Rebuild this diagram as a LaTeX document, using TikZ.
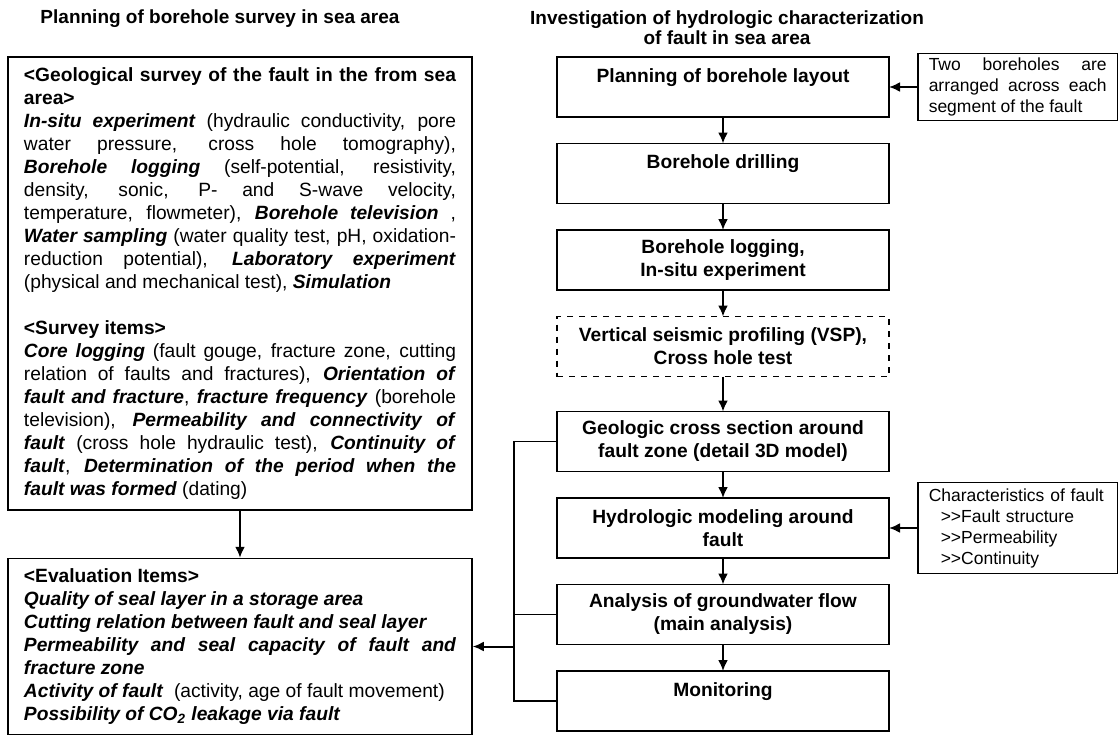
\documentclass[tikz,border=0pt]{standalone}
\usepackage{fontspec}
\setmainfont{Liberation Sans}
\usetikzlibrary{positioning,arrows.meta}

\newcommand{\bi}[1]{\textbf{\textit{#1}}}

\begin{document}
\begin{tikzpicture}[x=0.5pt, y=-0.5pt, node distance=13.25pt]
    \tikzset{
        headline/.style = {font=\fontsize{9.5}{10}\selectfont\bfseries, align=center},
        textbox/.style = {rectangle, draw, line width=0.75pt, inner xsep=8pt, inner ysep=4pt, text width=216pt, align=justify, font=\fontsize{9.6}{11.5}\selectfont},
        flowbox/.style = {rectangle, draw, line width=0.75pt, outer sep=0pt, minimum width=166pt, minimum height=30pt, align=center, font=\fontsize{9.6}{11.5}\selectfont\bfseries},
        notebox/.style = {rectangle, draw, line width=0.75pt, inner xsep=5.5pt, inner ysep=1.5pt, text width=89pt, font=\fontsize{8.75}{10.5}\selectfont},
        arrow/.style = {line width=1pt, -{Latex[length=5.5pt, width=5pt]}},
        bus/.style = {line width=0.6pt}
    }
    \useasboundingbox (0,0) rectangle (1118,734);

    % left column: survey plan
    \node[headline] (lefttitle) at (220,19) {Planning of borehole survey in sea area};
    \node[textbox, minimum height=226.5pt] (geo) at (240,283.5) {%
        \textbf{<Geological survey of the fault in the from sea\linebreak area>}\\
        \bi{In-situ experiment} (hydraulic conductivity, pore\linebreak
        water pressure, cross hole tomography),\linebreak
        \bi{Borehole logging} (self-potential, resistivity,\linebreak
        density, sonic, P- and S-wave velocity,\linebreak
        temperature, flowmeter), \bi{Borehole television} ,\linebreak
        \bi{Water sampling} (water quality test, pH, oxidation-\linebreak
        reduction potential), \bi{Laboratory experiment}\linebreak
        (physical and mechanical test), \bi{Simulation}\\[11.5pt]
        \textbf{<Survey items>}\\
        \bi{Core logging} (fault gouge, fracture zone, cutting\linebreak
        relation of faults and fractures), \bi{Orientation of}\linebreak
        \bi{fault and fracture}, \bi{fracture frequency} (borehole\linebreak
        television), \bi{Permeability and connectivity of}\linebreak
        \bi{fault} (cross hole hydraulic test), \bi{Continuity of}\linebreak
        \bi{fault}, \bi{Determination of the period when the}\linebreak
        \bi{fault was formed} (dating)};
    \node[textbox, minimum height=88pt, below=23.5pt of geo] (eval) {%
        \textbf{<Evaluation Items>}\\
        \bi{Quality of seal layer in a storage area}\\
        \bi{Cutting relation between fault and seal layer}\\
        \bi{Permeability and seal capacity of fault and\linebreak fracture zone}\\
        \bi{Activity of fault}\ \ (activity, age of fault movement)\\
        \bi{Possibility of CO\textsubscript{2} leakage via fault}};
    \draw[arrow] (geo) -- (eval);

    % right column: investigation flow
    \node[headline] (righttitle) at (727,28) {Investigation of hydrologic characterization\\of fault in sea area};
    \node[flowbox] (plan) at (723,87) {Planning of borehole layout\\ \mbox{}};
    \node[flowbox, below=of plan] (drill) {Borehole drilling\\ \mbox{}};
    \node[flowbox, below=of drill] (logging) {Borehole logging,\\In-situ experiment};
    \node[flowbox, dashed, below=of logging] (vsp) {Vertical seismic profiling (VSP),\\Cross hole test};
    \node[flowbox, below=17.5pt of vsp] (geosec) {Geologic cross section around\\fault zone (detail 3D model)};
    \node[flowbox, below=of geosec] (hydro) {Hydrologic modeling around\\fault};
    \node[flowbox, below=of hydro] (flow) {Analysis of groundwater flow\\(main analysis)};
    \node[flowbox, below=of flow] (monitor) {Monitoring\\ \mbox{}};

    \draw[arrow] (plan) -- (drill);
    \draw[arrow] (drill) -- (logging);
    \draw[arrow] (logging) -- (vsp);
    \draw[arrow] (vsp) -- (geosec);
    \draw[arrow] (geosec) -- (hydro);
    \draw[arrow] (hydro) -- (flow);
    \draw[arrow] (flow) -- (monitor);

    % side notes
    \node[notebox, align=justify, minimum height=33.5pt, right=14pt of plan] (twoholes) {Two boreholes are\linebreak arranged across each\linebreak segment of the fault};
    \node[notebox, align=left, minimum height=45.5pt, right=14pt of hydro] (traits) {Characteristics of fault\\
        \hspace*{6pt}>{}>Fault structure\\
        \hspace*{6pt}>{}>Permeability\\
        \hspace*{6pt}>{}>Continuity};
    \draw[arrow] (twoholes) -- (plan);
    \draw[arrow] (traits) -- (hydro);

    % feedback to evaluation items
    \coordinate (bustop) at ([xshift=-21.5pt]geosec.west);
    \coordinate (busbot) at (bustop |- monitor.west);
    \draw[bus] (geosec.west) -- (bustop) -- (busbot) -- (monitor.west);
    \draw[bus] (flow.west) -- (flow.west -| bustop);
    \draw[arrow] (eval.east -| bustop) -- (eval.east);
\end{tikzpicture}
\end{document}
